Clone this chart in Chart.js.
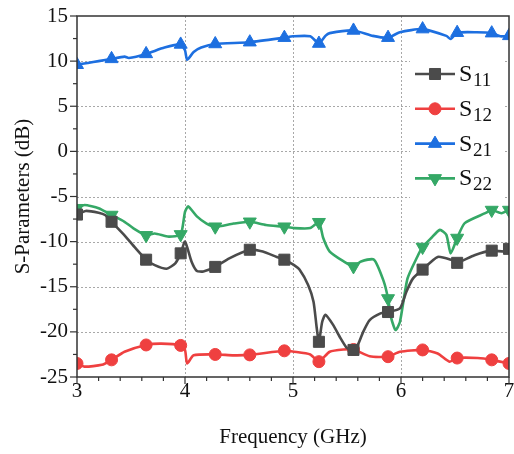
<!DOCTYPE html>
<html>
<head>
<meta charset="utf-8">
<script src="https://cdn.jsdelivr.net/npm/chart.js@4/dist/chart.umd.min.js"></script>
<style>
  html, body { margin: 0; padding: 0; background: #fff; overflow: hidden; }
  #wrap { width: 514px; height: 454px; position: relative; }
  canvas { display: block; }
</style>
</head>
<body>
<div id="wrap"><canvas id="chart"></canvas></div>
<script>
// Frequency (GHz) / value (dB)
const s11X = [3.0, 3.08, 3.2, 3.26, 3.32, 3.44, 3.54, 3.64, 3.72, 3.83, 3.91, 3.96, 4.0, 4.06, 4.11, 4.17, 4.28, 4.41, 4.6, 4.72, 4.85, 4.92, 5.01, 5.06, 5.14, 5.19, 5.22, 5.24, 5.27, 5.3, 5.37, 5.44, 5.5, 5.56, 5.6, 5.65, 5.71, 5.81, 5.88, 5.99, 6.05, 6.11, 6.2, 6.34, 6.47, 6.52, 6.68, 6.84, 6.96, 7.0];
const s11Y = [-7.0, -6.6, -6.8, -7.05, -7.8, -9.3, -10.7, -12.0, -12.6, -13.0, -12.4, -11.3, -10.0, -12.2, -13.25, -13.3, -12.8, -11.85, -10.9, -11.1, -11.7, -12.0, -12.6, -13.1, -14.8, -16.65, -19.6, -21.1, -18.9, -18.1, -19.2, -20.7, -21.8, -22.0, -21.45, -20.0, -18.7, -17.95, -17.8, -17.4, -15.55, -14.1, -13.1, -11.7, -12.05, -12.35, -11.5, -11.0, -11.1, -10.8];

const s12X = [3.0, 3.07, 3.23, 3.32, 3.44, 3.64, 3.78, 3.96, 4.0, 4.02, 4.08, 4.28, 4.45, 4.6, 4.92, 5.01, 5.16, 5.24, 5.34, 5.47, 5.56, 5.71, 5.88, 5.99, 6.2, 6.34, 6.45, 6.52, 6.71, 6.84, 7.0];
const s12Y = [-23.5, -23.85, -23.65, -23.1, -22.2, -21.45, -21.3, -21.5, -22.0, -23.5, -22.6, -22.5, -22.6, -22.55, -22.1, -22.2, -22.5, -23.3, -22.2, -21.95, -21.95, -22.7, -22.75, -22.2, -22.0, -22.4, -23.3, -22.9, -22.9, -23.1, -23.5];

const s21X = [3.0, 3.1, 3.2, 3.32, 3.44, 3.48, 3.64, 3.81, 3.96, 4.0, 4.02, 4.08, 4.15, 4.28, 4.6, 4.92, 5.0, 5.16, 5.24, 5.3, 5.34, 5.56, 5.74, 5.88, 5.99, 6.2, 6.42, 6.46, 6.52, 6.7, 6.84, 6.92, 7.0];
const s21Y = [9.6, 9.8, 10.0, 10.25, 10.5, 10.35, 10.8, 11.5, 11.85, 11.2, 10.15, 11.0, 11.5, 11.9, 12.1, 12.6, 12.75, 12.75, 11.95, 12.8, 13.1, 13.4, 12.8, 12.6, 13.2, 13.55, 12.8, 12.45, 13.15, 13.2, 13.1, 12.75, 12.8];

const s22X = [3.0, 3.07, 3.2, 3.32, 3.44, 3.52, 3.64, 3.72, 3.85, 3.96, 4.0, 4.03, 4.11, 4.2, 4.28, 4.45, 4.6, 4.75, 4.92, 5.01, 5.16, 5.24, 5.28, 5.34, 5.47, 5.56, 5.63, 5.75, 5.84, 5.88, 5.91, 5.95, 5.99, 6.06, 6.15, 6.2, 6.28, 6.36, 6.42, 6.46, 6.52, 6.59, 6.78, 6.84, 6.93, 7.0];
const s22Y = [-6.3, -5.95, -6.3, -7.05, -7.8, -8.5, -9.3, -9.1, -9.45, -9.2, -6.7, -6.1, -7.2, -8.0, -8.35, -8.0, -7.8, -8.15, -8.35, -8.5, -8.5, -7.85, -9.6, -11.1, -12.2, -12.75, -12.2, -12.0, -14.4, -16.3, -18.5, -19.8, -18.9, -14.1, -11.7, -10.6, -9.6, -8.7, -9.25, -11.3, -9.6, -7.95, -6.85, -6.5, -6.85, -6.5];

// where the symbols sit along each curve
const markerX = [3.0, 3.32, 3.64, 3.96, 4.28, 4.6, 4.92, 5.24, 5.56, 5.88, 6.2, 6.52, 6.84, 7.0];

const xTicks = [3, 4, 5, 6, 7];
const yTicks = [-25, -20, -15, -10, -5, 0, 5, 10, 15];

const serif = "'Liberation Serif', 'Times New Roman', serif";

function pts(xs, ys) {
    return xs.map((x, i) => ({ x: x, y: ys[i] }));
}
function isMarker(x) {
    return markerX.some(m => Math.abs(m - x) < 1e-6);
}

const series = [
    { sub: '11', xs: s11X, ys: s11Y, color: '#4b4b4b', style: 'rect', r: 7.8, rot: 0 },
    { sub: '12', xs: s12X, ys: s12Y, color: '#ef4040', style: 'circle', r: 6, rot: 0 },
    { sub: '21', xs: s21X, ys: s21Y, color: '#1d6fe0', style: 'triangle', r: 7.5, rot: 0 },
    { sub: '22', xs: s22X, ys: s22Y, color: '#35a866', style: 'triangle', r: 7.5, rot: 180 }
];

const datasets = series.map(s => ({
    label: 'S' + s.sub,
    data: pts(s.xs, s.ys),
    borderColor: s.color,
    backgroundColor: s.color,
    borderWidth: 2.6,
    tension: 0.2,
    pointStyle: s.style,
    pointRotation: s.rot,
    pointRadius: ctx => isMarker(ctx.raw.x) ? s.r : 0,
    pointBorderWidth: 1,
    pointHoverRadius: 0
}));

// the plot box runs almost to the right edge, past where Chart.js leaves room for the "7"
const plotRight = 509;
const stretchX = {
    id: 'stretchX',
    afterLayout(chart) {
        const x = chart.scales.x;
        chart.chartArea.right = plotRight;
        chart.chartArea.width = plotRight - chart.chartArea.left;
        x.right = plotRight;
        x.width = plotRight - x.left;
        x.configure();
    }
};

// dotted grid, box frame, outward tick marks and the legend
const decor = {
    id: 'decor',
    beforeDatasetsDraw(chart) {
        const { ctx, chartArea: a, scales } = chart;
        ctx.save();
        ctx.strokeStyle = '#a8a8a8';
        ctx.lineWidth = 1;
        ctx.setLineDash([2, 2]);
        xTicks.slice(1, -1).forEach(v => {
            const px = Math.round(scales.x.getPixelForValue(v)) + 0.5;
            ctx.beginPath(); ctx.moveTo(px, a.top); ctx.lineTo(px, a.bottom); ctx.stroke();
        });
        yTicks.slice(1, -1).forEach(v => {
            const py = Math.round(scales.y.getPixelForValue(v)) + 0.5;
            ctx.beginPath(); ctx.moveTo(a.left, py); ctx.lineTo(a.right, py); ctx.stroke();
        });
        ctx.restore();
    },
    afterDatasetsDraw(chart) {
        const { ctx, chartArea: a, scales } = chart;
        ctx.save();
        // legend background
        ctx.fillStyle = '#fff';
        ctx.fillRect(410, 52, 94, 148);

        ctx.strokeStyle = '#333';
        ctx.lineWidth = 1.5;
        ctx.strokeRect(a.left, a.top, a.right - a.left, a.bottom - a.top);
        ctx.lineWidth = 1.2;
        for (let v = 3; v <= 7.0001; v += 0.2) {
            const major = Math.abs(v - Math.round(v)) < 1e-6;
            const px = scales.x.getPixelForValue(v);
            ctx.beginPath(); ctx.moveTo(px, a.bottom); ctx.lineTo(px, a.bottom + (major ? 7 : 4)); ctx.stroke();
        }
        for (let v = -25; v <= 15.0001; v += 2.5) {
            const major = Math.abs(v / 5 - Math.round(v / 5)) < 1e-6;
            const py = scales.y.getPixelForValue(v);
            ctx.beginPath(); ctx.moveTo(a.left, py); ctx.lineTo(a.left - (major ? 7 : 4), py); ctx.stroke();
        }

        // legend
        series.forEach((s, i) => {
            const y = 74 + i * 34.8;
            ctx.strokeStyle = s.color;
            ctx.lineWidth = 2.6;
            ctx.beginPath(); ctx.moveTo(415, y); ctx.lineTo(455, y); ctx.stroke();
            ctx.fillStyle = s.color;
            ctx.lineWidth = 1;
            Chart.helpers.drawPoint(ctx, { pointStyle: s.style, radius: s.r, rotation: s.rot, borderWidth: 1 }, 435, y);
            ctx.fillStyle = '#111';
            ctx.textBaseline = 'alphabetic';
            ctx.font = '24px ' + serif;
            ctx.fillText('S', 459, y + 7);
            ctx.font = '19px ' + serif;
            ctx.fillText(s.sub, 473, y + 12);
        });
        ctx.restore();
    }
};

new Chart(document.getElementById('chart'), {
    type: 'line',
    data: { datasets: datasets },
    options: {
        responsive: true,
        maintainAspectRatio: false,
        animation: false,
        layout: { padding: { top: 16, right: 5, left: 0, bottom: 0 } },
        plugins: { legend: { display: false }, tooltip: { enabled: false } },
        scales: {
            x: {
                type: 'linear',
                min: 3, max: 7,
                grid: { display: false, drawTicks: false },
                border: { display: false },
                afterFit: s => { s.height = 77; },
                afterBuildTicks: s => { s.ticks = xTicks.map(v => ({ value: v })); },
                ticks: { padding: 2, color: '#111', font: { family: serif, size: 21 }, maxRotation: 0 },
                title: { display: true, text: 'Frequency (GHz)', color: '#111', font: { family: serif, size: 21 }, padding: { top: 4, bottom: 4 } }
            },
            y: {
                min: -25, max: 15,
                grid: { display: false, drawTicks: false },
                border: { display: false },
                afterFit: s => { s.width = 77; s.paddingTop = 0; s.paddingBottom = 0; },
                afterBuildTicks: s => { s.ticks = yTicks.map(v => ({ value: v })); },
                ticks: { padding: 9, color: '#111', font: { family: serif, size: 21 } },
                title: { display: true, text: 'S-Parameters (dB)', color: '#111', font: { family: serif, size: 21 }, padding: { top: 11, bottom: 4 } }
            }
        }
    },
    plugins: [stretchX, decor]
});
</script>
</body>
</html>
